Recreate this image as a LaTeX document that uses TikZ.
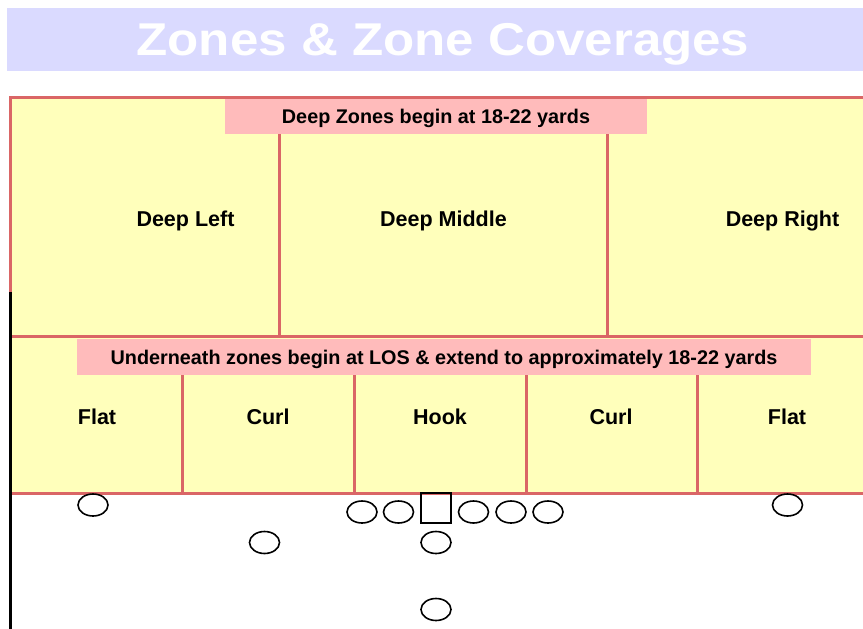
\documentclass[tikz,border=0pt]{standalone}
\usepackage{fontspec}
\setmainfont{Liberation Sans}
\usepackage{graphicx}
\usetikzlibrary{shapes.geometric}
\definecolor{titlebg}{HTML}{DADAFF}
\definecolor{fieldyel}{HTML}{FFFFBB}
\definecolor{zoneline}{HTML}{DA6666}
\definecolor{bannerpink}{HTML}{FFBBBB}
\tikzset{
  zoneborder/.style={draw=zoneline, line width=3pt},
  banner/.style={fill=bannerpink, draw=none, inner sep=0pt, font=\fontsize{19.8}{24}\selectfont\bfseries},
  zonelabel/.style={font=\fontsize{21.5}{26}\selectfont\bfseries, inner sep=0pt, anchor=base},
  player/.style={ellipse, draw=black, line width=1.6pt, minimum width=30pt, minimum height=22pt, inner sep=0pt},
  center/.style={rectangle, draw=black, line width=2pt, minimum width=30pt, minimum height=30pt, inner sep=0pt}
}
\begin{document}
\begin{tikzpicture}[x=1pt,y=-1pt]
\useasboundingbox (0,0) rectangle (863,629);
\fill[white] (0,0) rectangle (863,629);
% title
\fill[titlebg] (7,8) rectangle (863,71);
\node[text=white, font=\fontsize{46}{50}\selectfont\bfseries, anchor=base, inner sep=0pt] (title) at (443,55) {\scalebox{1.11}[1]{Zones \& Zone Coverages}};
% field
\fill[fieldyel] (10,97) rectangle (870,493);
\draw[zoneborder] (10,97) rectangle (870,336);
\draw[zoneborder] (10,336) rectangle (870,493);
% deep dividers
\draw[zoneborder] (279,134) -- (279,336);
\draw[zoneborder] (607,134) -- (607,336);
% underneath dividers
\draw[zoneborder] (182,375) -- (182,493);
\draw[zoneborder] (354,375) -- (354,493);
\draw[zoneborder] (526,375) -- (526,493);
\draw[zoneborder] (697,375) -- (697,493);
% sideline
\draw[black, line width=3pt] (10.5,292) -- (10.5,632);
% banners
\fill[bannerpink] (225,98.5) rectangle (647,134);
\node[banner, anchor=base] (deepb) at (436,123) {Deep Zones begin at 18-22 yards};
\fill[bannerpink] (77,338.5) rectangle (811,375);
\node[banner, anchor=base] (undb) at (444,364) {Underneath zones begin at LOS \& extend to approximately 18-22 yards};
% zone labels
\node[zonelabel] (dl) at (185.5,226) {Deep Left};
\node[zonelabel] (dm) at (443.5,226) {Deep Middle};
\node[zonelabel] (dr) at (782.5,226) {Deep Right};
\node[zonelabel] (f1) at (97,424) {Flat};
\node[zonelabel] (c1) at (268,424) {Curl};
\node[zonelabel] (hk) at (440,424) {Hook};
\node[zonelabel] (c2) at (611,424) {Curl};
\node[zonelabel] (f2) at (787,424) {Flat};
% players
\node[player] (wl) at (93,505) {};
\node[player] (wr) at (787.5,505) {};
\node[player] (lt) at (362,512) {};
\node[player] (lg) at (398.5,512) {};
\node[center] (c) at (436,508) {};
\node[player] (rg) at (473.5,512) {};
\node[player] (rt) at (511,512) {};
\node[player] (te) at (548,512) {};
\node[player] (hb) at (264.5,542.5) {};
\node[player] (qb) at (436,542.5) {};
\node[player] (fb) at (436,609.5) {};
\end{tikzpicture}
\end{document}
